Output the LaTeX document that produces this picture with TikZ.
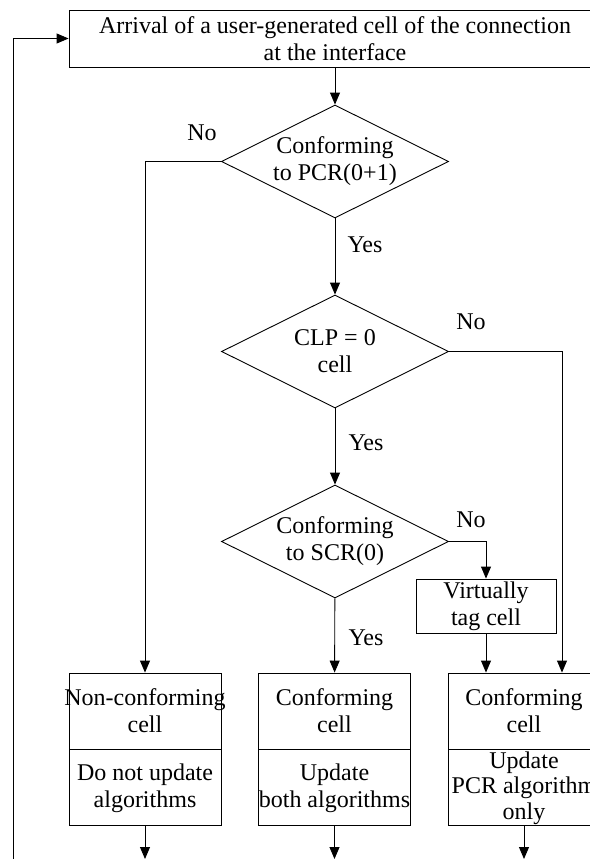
\documentclass[tikz,border=0pt]{standalone}
\usepackage{fontspec}
\setmainfont{Liberation Serif}
\usetikzlibrary{shapes.geometric,arrows.meta,positioning}
\begin{document}
\begin{tikzpicture}[x=1pt, y=-1pt, line width=0.9pt,
	every node/.style={font=\fontsize{24}{27}\selectfont, align=center},
	decision/.style={draw, diamond, aspect=2, inner sep=0pt, minimum width=227pt, minimum height=113pt},
	stepbox/.style={draw, rectangle, inner sep=0pt},
	cellbox/.style={draw, rectangle, inner sep=0pt, minimum width=152pt, minimum height=76pt},
	>={Triangle[length=12pt, width=10pt]}]
		\useasboundingbox (0,0) rectangle (589,859);
		\node[stepbox, minimum width=532pt, minimum height=57pt] (arrival) at (335,38.5) {Arrival of a user-generated cell of the connection\\at the interface};
		\node[decision] (pcr) at (335,161.5) {Conforming\\to PCR(0+1)};
		\node[decision] (clp) at (335,351.5) {CLP = 0\\cell};
		\node[decision] (scr) at (335,541.5) {Conforming\\to SCR(0)};
		\node[stepbox, minimum width=140pt, minimum height=54pt] (tag) at (486,606) {Virtually\\tag cell};
		\node[cellbox] (noncell) at (145,711) {\makebox[152pt]{Non-conforming}\\cell};
		\node[cellbox, below=0pt of noncell] (nonupd) {Do not update\\algorithms};
		\node[cellbox] (bothcell) at (334.5,711) {Conforming\\cell};
		\node[cellbox, below=0pt of bothcell] (bothupd) {Update\\both algorithms};
		\node[cellbox] (pcrcell) at (524,711) {Conforming\\cell};
		\node[cellbox, below=0pt of pcrcell, font=\fontsize{24}{25.5}\selectfont] (pcrupd) {Update\\\makebox[152pt]{PCR algorithm}\\only};
		\node (no1) at (202,133) {No};
		\node (yes1) at (365,245) {Yes};
		\node (no2) at (471,322) {No};
		\node (yes2) at (366,443) {Yes};
		\node (no3) at (471,520) {No};
		\node (yes3) at (366,638) {Yes};
		\coordinate (loop) at (13,859);
		\coordinate (out1) at (145,859);
		\coordinate (out2) at (334.5,859);
		\coordinate (out3) at (524,859);
		\draw[->] (loop) |- (arrival.west);
		\draw[->] (arrival) -- (pcr);
		\draw[->] (pcr.west) -| (noncell.north);
		\draw[->] (pcr) -- (clp);
		\draw[->] (clp.east) -| ([xshift=38pt]pcrcell.north);
		\draw[->] (clp) -- (scr);
		\draw[->] (scr.east) -| (tag.north);
		\draw[->] (scr) -- (bothcell);
		\draw[->] (tag.south) -- (tag.south |- pcrcell.north);
		\foreach \b/\o in {nonupd/out1, bothupd/out2, pcrupd/out3}{
			\draw[->] (\b.south) -- (\o);
		}
	\end{tikzpicture}
\end{document}
